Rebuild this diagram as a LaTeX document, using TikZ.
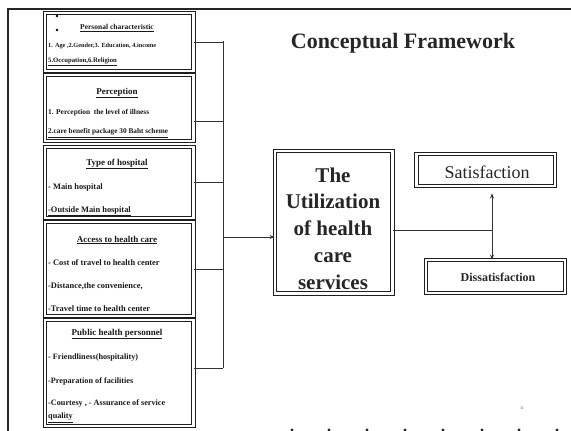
\documentclass[tikz,border=0pt]{standalone}
\usepackage{fontspec}
\setmainfont{Liberation Serif}
\usetikzlibrary{arrows.meta}
\begin{document}
\begin{tikzpicture}[x=1pt,y=-1pt,
  dbox/.style={draw=black!88, line width=0.9pt, double, double distance=2.4pt, inner sep=0pt},
  small/.style={font=\fontsize{#1}{#1}\selectfont\bfseries, inner sep=0pt, text=black!90},
  small/.default=6.5,
  lft/.style={small=#1, anchor=west},
  lft/.default=6.5,
  conn/.style={draw=black!80, line width=0.75pt},
  frame/.style={draw=black!85, line width=2.6pt}]
\useasboundingbox (0,0) rectangle (571,431);
% frame
\coordinate (fa) at (8,9);
\coordinate (fb) at (571,9);
\coordinate (fc) at (8,431);
\draw[frame] (fc) -- (fa) -- (fb);
% title
\node[font=\fontsize{22}{26}\selectfont\bfseries, text=black!85] (title) at (403,43) {Conceptual Framework};
% left boxes
\node[dbox, minimum width=148.5, minimum height=58] (B1) at (119.25,42) {};
\node[dbox, minimum width=148.5, minimum height=66] (B2) at (119.25,108) {};
\node[dbox, minimum width=148.5, minimum height=71] (B3) at (119.25,182.5) {};
\node[dbox, minimum width=148.5, minimum height=94] (B4) at (119.25,269) {};
\node[dbox, minimum width=148.5, minimum height=106] (B5) at (119.25,373) {};
% box 1 text
\fill (57,16) circle (1.3);
\fill (57,30) circle (1.3);
\node[small=7.5] (t11) at (117,28) {\underline{Personal characteristic}};
\node[lft=6.3] (t12) at (48,46) {1. Age ,2.Gender,3. Education, 4.income};
\node[lft=6.7] (t13) at (48,62) {\underline{5.Occupation,6.Religion}};
% box 2 text
\node[small=9] (t21) at (117,93) {\underline{Perception}};
\node[lft=7.4] (t22) at (48,113) {1. Perception\ \ the level of illness};
\node[lft=7.3] (t23) at (48,133) {\underline{2.care benefit package 30 Baht scheme}};
% box 3 text
\node[small=9] (t31) at (117,164) {\underline{Type of hospital}};
\node[lft=8.4] (t32) at (48,187) {- Main hospital};
\node[lft=8.4] (t33) at (48,211) {\underline{-Outside Main hospital}};
% box 4 text
\node[small=9] (t41) at (117,240) {\underline{Access to health care}};
\node[lft=8.4] (t42) at (48,263) {- Cost of travel to health center};
\node[lft=8.4] (t43) at (48,286) {-Distance,the convenience,};
\node[lft=8.4] (t44) at (48,309) {-Travel time to health center};
% box 5 text
\node[small=9] (t51) at (117,334) {\underline{Public health personnel}};
\node[lft=8.2] (t52) at (48,358) {- Friendliness(hospitality)};
\node[lft=8.2] (t53) at (48,381) {-Preparation of facilities};
\node[lft=8.2] (t54) at (48,403) {-Courtesy , - Assurance of service};
\node[lft=8.2] (t55) at (48,418) {\underline{quality}};
% central box
\node[dbox, minimum width=117.5, minimum height=142.5] (U) at (333.75,222.25) {};
\node[font=\fontsize{21}{26.8}\selectfont\bfseries, align=center, text=black!85] (Ut) at (333,228.5) {The\\Utilization\\of health\\care\\services};
% right boxes
\node[dbox, minimum width=138.5, minimum height=32] (S) at (485.75,170) {};
\node[font=\fontsize{18}{20}\selectfont, text=black!85] (St) at (487,172) {Satisfaction};
\node[dbox, minimum width=139, minimum height=33] (D) at (495.5,276.5) {};
\node[font=\fontsize{12}{14}\selectfont\bfseries, text=black!85] (Dt) at (498,277) {Dissatisfaction};
% bus connectors
\coordinate (bus1) at (223,41);
\coordinate (bus5) at (223,368);
\coordinate (J) at (223,237);
\draw[conn] (B1.east) -- (B1.east -| bus1);
\draw[conn] ([yshift=-13pt]B2.east) -- ([yshift=-13pt]B2.east -| bus1);
\draw[conn] (B3.east) -- (B3.east -| bus1);
\draw[conn] (B4.east) -- (B4.east -| bus1);
\draw[conn] ([yshift=5pt]B5.east) -- ([yshift=5pt]B5.east -| bus1);
\draw[conn] (bus1) -- (bus5);
\draw[conn, -{Stealth[length=5pt,width=4pt]}] (J) -- (J -| U.west);
% right connectors
\coordinate (K) at (492,230);
\coordinate (Sb) at ([yshift=-7pt]S.south);
\draw[conn] ([yshift=-7.75pt]U.east) -- (K);
\draw[conn, {Stealth[length=5pt,width=4pt]}-{Stealth[length=5pt,width=4pt]}] (Sb -| K) -- (D.north -| K);
% page number and bottom dots
\node[font=\fontsize{4}{5}\selectfont, text=black!70] (pg) at (522,408) {11};
\foreach \xx in {292,329,367,405,443,482,519,557} \fill[black!85] (\xx,430) circle (1.6);
\end{tikzpicture}
\end{document}
